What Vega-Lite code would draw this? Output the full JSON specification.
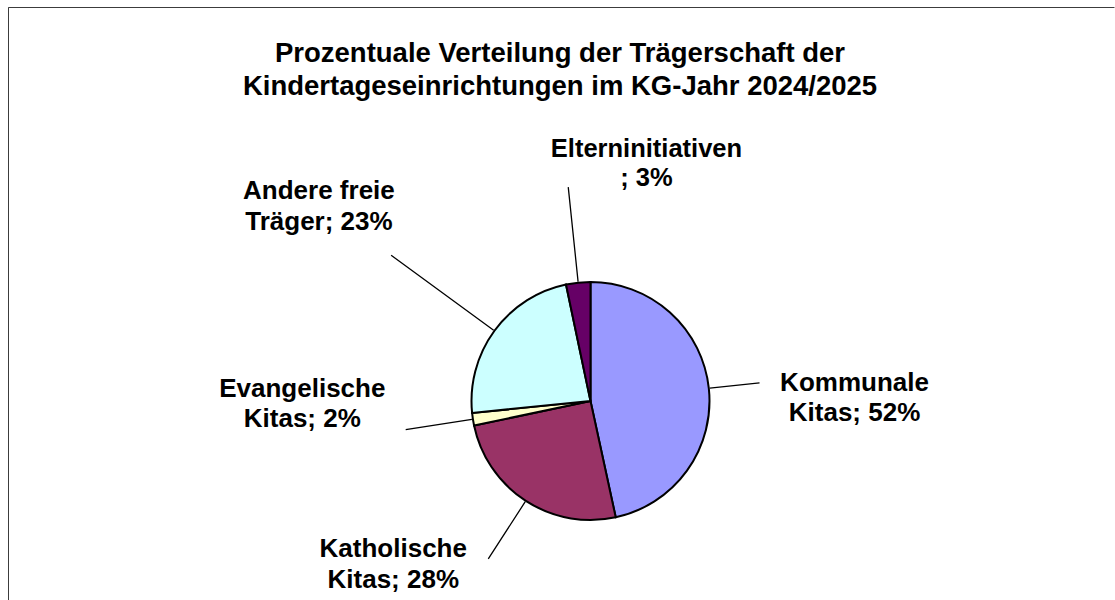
{
  "$schema": "https://vega.github.io/schema/vega-lite/v6.json",
  "width": 1165,
  "height": 788,
  "autosize": {"type": "none"},
  "padding": {"left": 8, "top": 7, "right": -58, "bottom": -195},
  "background": "white",
  "view": {"stroke": "#3c3c3c", "strokeWidth": 1, "strokeDash": [1106, 1000, 3000, 0]},
  "config": {
    "text": {"font": "Liberation Sans"}
  },
  "title": {
    "text": ["Prozentuale Verteilung der Trägerschaft der", "Kindertageseinrichtungen im KG-Jahr 2024/2025"],
    "font": "Liberation Sans",
    "fontSize": 27.5,
    "fontWeight": "bold",
    "color": "black",
    "anchor": "middle",
    "frame": "group",
    "dx": -30.5,
    "baseline": "top",
    "lineHeight": 32.6,
    "offset": -93.5
  },
  "data": {
    "values": [
      {"name": "Kommunale Kitas", "order": 1, "value": 46.6, "label": "Kommunale\nKitas; 52%"},
      {"name": "Katholische Kitas", "order": 2, "value": 25.1, "label": "Katholische\nKitas; 28%"},
      {"name": "Evangelische Kitas", "order": 3, "value": 1.7, "label": "Evangelische\nKitas; 2%"},
      {"name": "Andere freie Träger", "order": 4, "value": 23.3, "label": "Andere freie\nTräger; 23%"},
      {"name": "Elterninitiativen", "order": 5, "value": 3.3, "label": "Elterninitiativen\n; 3%"}
    ]
  },
  "layer": [
    {
      "transform": [{"aggregate": [{"op": "count", "as": "n"}]}],
      "mark": {"type": "rect", "fillOpacity": 0, "strokeOpacity": 0, "stroke": "white", "strokeWidth": 1},
      "encoding": {}
    },
    {
      "mark": {"type": "arc", "outerRadius": 119, "stroke": "black", "strokeWidth": 2},
      "encoding": {
        "theta": {"field": "value", "type": "quantitative", "stack": true, "scale": {"domain": [0, 100]}},
        "order": {"field": "order", "type": "quantitative"},
        "color": {
          "field": "name", "type": "nominal", "legend": null,
          "scale": {
            "domain": ["Kommunale Kitas", "Katholische Kitas", "Evangelische Kitas", "Andere freie Träger", "Elterninitiativen"],
            "range": ["#9999FF", "#993366", "#FFFFCC", "#CCFFFF", "#660066"]
          }
        }
      }
    },
    {
      "mark": {"type": "arc", "innerRadius": 120, "outerRadius": 170, "padAngle": 3, "fillOpacity": 0, "stroke": "black", "strokeWidth": 1.3},
      "encoding": {
        "theta": {"field": "value", "type": "quantitative", "stack": true, "scale": {"domain": [0, 100]}},
        "order": {"field": "order", "type": "quantitative"},
        "detail": {"field": "name", "type": "nominal"},
        "strokeOpacity": {"condition": {"test": "datum.name === 'Kommunale Kitas'", "value": 1}, "value": 0}
      }
    },
    {
      "mark": {"type": "arc", "innerRadius": 120, "outerRadius": 188, "padAngle": 3, "fillOpacity": 0, "stroke": "black", "strokeWidth": 1.3},
      "encoding": {
        "theta": {"field": "value", "type": "quantitative", "stack": true, "scale": {"domain": [0, 100]}},
        "order": {"field": "order", "type": "quantitative"},
        "detail": {"field": "name", "type": "nominal"},
        "strokeOpacity": {"condition": {"test": "datum.name === 'Katholische Kitas'", "value": 1}, "value": 0}
      }
    },
    {
      "mark": {"type": "arc", "innerRadius": 120, "outerRadius": 187, "padAngle": 3, "fillOpacity": 0, "stroke": "black", "strokeWidth": 1.3},
      "encoding": {
        "theta": {"field": "value", "type": "quantitative", "stack": true, "scale": {"domain": [0, 100]}},
        "order": {"field": "order", "type": "quantitative"},
        "detail": {"field": "name", "type": "nominal"},
        "strokeOpacity": {"condition": {"test": "datum.name === 'Evangelische Kitas'", "value": 1}, "value": 0}
      }
    },
    {
      "mark": {"type": "arc", "innerRadius": 120, "outerRadius": 247, "padAngle": 3, "fillOpacity": 0, "stroke": "black", "strokeWidth": 1.3},
      "encoding": {
        "theta": {"field": "value", "type": "quantitative", "stack": true, "scale": {"domain": [0, 100]}},
        "order": {"field": "order", "type": "quantitative"},
        "detail": {"field": "name", "type": "nominal"},
        "strokeOpacity": {"condition": {"test": "datum.name === 'Andere freie Träger'", "value": 1}, "value": 0}
      }
    },
    {
      "mark": {"type": "arc", "innerRadius": 120, "outerRadius": 215, "padAngle": 3, "fillOpacity": 0, "stroke": "black", "strokeWidth": 1.3},
      "encoding": {
        "theta": {"field": "value", "type": "quantitative", "stack": true, "scale": {"domain": [0, 100]}},
        "order": {"field": "order", "type": "quantitative"},
        "detail": {"field": "name", "type": "nominal"},
        "strokeOpacity": {"condition": {"test": "datum.name === 'Elterninitiativen'", "value": 1}, "value": 0}
      }
    },
    {
      "mark": {"type": "text", "radius": 170, "dx": 95, "dy": 8, "align": "center", "baseline": "alphabetic", "lineBreak": "\n", "font": "Liberation Sans", "fontSize": 26, "fontWeight": "bold", "lineHeight": 30.5, "color": "black"},
      "encoding": {
        "theta": {"field": "value", "type": "quantitative", "stack": true, "scale": {"domain": [0, 100]}},
        "order": {"field": "order", "type": "quantitative"},
        "detail": {"field": "name", "type": "nominal"},
        "text": {"condition": {"test": "datum.name === 'Kommunale Kitas'", "field": "label", "type": "nominal"}, "value": ""}
      }
    },
    {
      "mark": {"type": "text", "radius": 188, "dx": -95, "dy": -1.5, "align": "center", "baseline": "alphabetic", "lineBreak": "\n", "font": "Liberation Sans", "fontSize": 26, "fontWeight": "bold", "lineHeight": 30.5, "color": "black"},
      "encoding": {
        "theta": {"field": "value", "type": "quantitative", "stack": true, "scale": {"domain": [0, 100]}},
        "order": {"field": "order", "type": "quantitative"},
        "detail": {"field": "name", "type": "nominal"},
        "text": {"condition": {"test": "datum.name === 'Katholische Kitas'", "field": "label", "type": "nominal"}, "value": ""}
      }
    },
    {
      "mark": {"type": "text", "radius": 187, "dx": -103.4, "dy": -33, "align": "center", "baseline": "alphabetic", "lineBreak": "\n", "font": "Liberation Sans", "fontSize": 26, "fontWeight": "bold", "lineHeight": 30.5, "color": "black"},
      "encoding": {
        "theta": {"field": "value", "type": "quantitative", "stack": true, "scale": {"domain": [0, 100]}},
        "order": {"field": "order", "type": "quantitative"},
        "detail": {"field": "name", "type": "nominal"},
        "text": {"condition": {"test": "datum.name === 'Evangelische Kitas'", "field": "label", "type": "nominal"}, "value": ""}
      }
    },
    {
      "mark": {"type": "text", "radius": 247, "dx": -72.2, "dy": -55.8, "align": "center", "baseline": "alphabetic", "lineBreak": "\n", "font": "Liberation Sans", "fontSize": 26, "fontWeight": "bold", "lineHeight": 30.5, "color": "black"},
      "encoding": {
        "theta": {"field": "value", "type": "quantitative", "stack": true, "scale": {"domain": [0, 100]}},
        "order": {"field": "order", "type": "quantitative"},
        "detail": {"field": "name", "type": "nominal"},
        "text": {"condition": {"test": "datum.name === 'Andere freie Träger'", "field": "label", "type": "nominal"}, "value": ""}
      }
    },
    {
      "mark": {"type": "text", "radius": 215, "dx": 78.2, "dy": -30.5, "align": "center", "baseline": "alphabetic", "lineBreak": "\n", "font": "Liberation Sans", "fontSize": 25.5, "fontWeight": "bold", "lineHeight": 29, "color": "black"},
      "encoding": {
        "theta": {"field": "value", "type": "quantitative", "stack": true, "scale": {"domain": [0, 100]}},
        "order": {"field": "order", "type": "quantitative"},
        "detail": {"field": "name", "type": "nominal"},
        "text": {"condition": {"test": "datum.name === 'Elterninitiativen'", "field": "label", "type": "nominal"}, "value": ""}
      }
    }
  ]
}
